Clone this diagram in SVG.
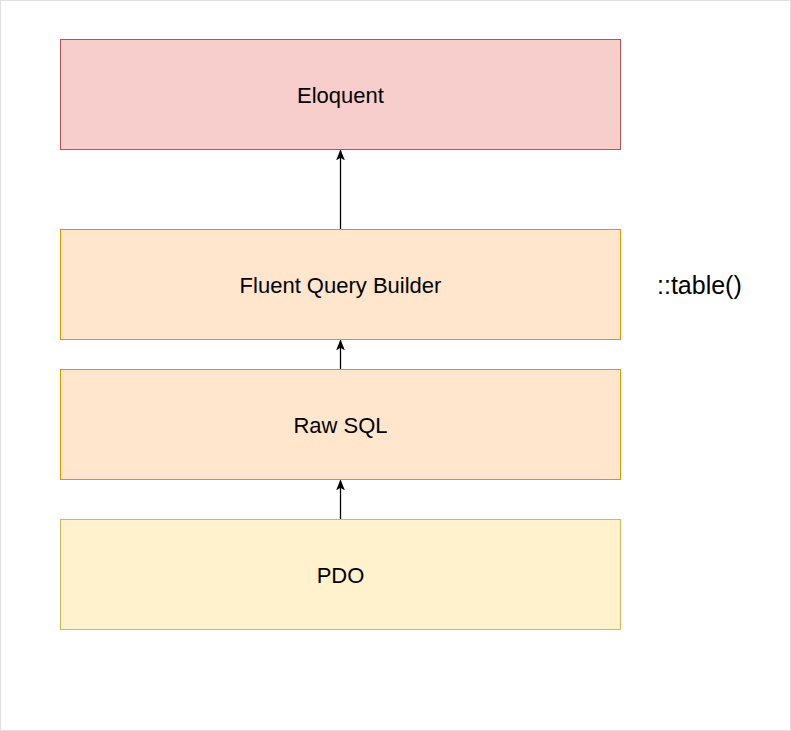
<svg xmlns="http://www.w3.org/2000/svg" width="791" height="731" viewBox="0 0 791 731">
<style>
.t{font-family:"Liberation Sans",Arial,Helvetica,sans-serif;font-size:22px;fill:#000;text-anchor:middle}
.red{fill:#f8cecc;stroke:#b85450;stroke-width:1}
.org{fill:#ffe6cc;stroke:#d79b00;stroke-width:1}
.yel{fill:#fff2cc;stroke:#d6b656;stroke-width:1}
.c{stroke:#000;stroke-width:1.3;fill:none}
</style>
<defs>
<marker id="ah" viewBox="0 0 10 10" refX="9" refY="5" markerWidth="11" markerHeight="11" markerUnits="userSpaceOnUse" orient="auto">
<path d="M0,1 L10,5 L0,9 L2.5,5 Z" fill="#000"/>
</marker>
</defs>
<rect x="0.5" y="0.5" width="790" height="730" fill="#fff" stroke="#e0e0e0"/>
<g id="connectors">
<line class="c" x1="340.5" y1="229.5" x2="340.5" y2="150.5" marker-end="url(#ah)"/>
<line class="c" x1="340.5" y1="369.5" x2="340.5" y2="340.5" marker-end="url(#ah)"/>
<line class="c" x1="340.5" y1="519.5" x2="340.5" y2="480.5" marker-end="url(#ah)"/>
</g>
<g id="eloquent">
<rect class="red" x="60.5" y="39.5" width="560" height="110"/>
<text class="t" x="340.5" y="102.5">Eloquent</text>
</g>
<g id="fluent">
<rect class="org" x="60.5" y="229.5" width="560" height="110"/>
<text class="t" x="340.5" y="292.5">Fluent Query Builder</text>
</g>
<g id="rawsql">
<rect class="org" x="60.5" y="369.5" width="560" height="110"/>
<text class="t" x="340.5" y="432.5">Raw SQL</text>
</g>
<g id="pdo">
<rect class="yel" x="60.5" y="519.5" width="560" height="110"/>
<text class="t" x="340.5" y="582.5">PDO</text>
</g>
<g id="table-label">
<text x="657" y="294" style="font-family:'Liberation Sans',Arial,Helvetica,sans-serif;font-size:25px;fill:#000">::table()</text>
</g>
</svg>
